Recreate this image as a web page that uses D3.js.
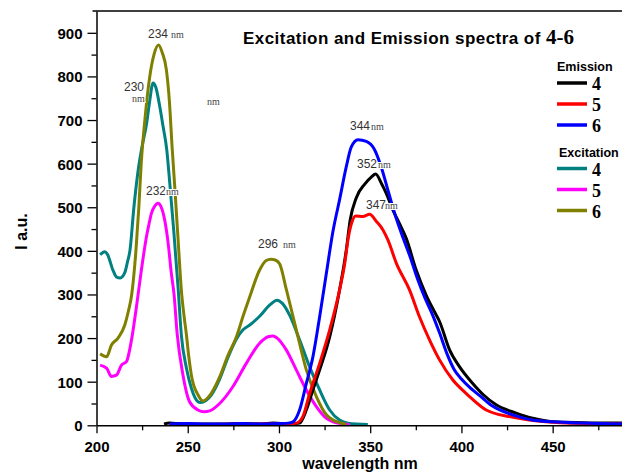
<!DOCTYPE html>
<html>
<head>
<meta charset="utf-8">
<script src="https://cdn.jsdelivr.net/npm/d3@7"></script>
<style>
  body { margin: 0; background: #fff; }
  svg { display: block; font-family: "Liberation Sans", Arial, sans-serif; }
</style>
</head>
<body>
<svg id="chart" width="622" height="473"></svg>
<script>
// Spectra: [wavelength nm, intensity a.u.]
const excitation4 = [[202,391],[204.5,398],[206,392],[209,356],[211,340],[213,338],[215.5,350],[217,375],[218.3,400],[220.5,500],[223,590],[225,640],[227.4,690],[229.2,745],[231,785],[232.5,775],[234.5,735],[236.5,685],[238.5,632],[240,563],[242.3,448],[244.7,316],[246.5,207],[249.3,131],[252,85],[255.6,54],[257,52],[260,57],[263,70],[267.5,106],[272,155],[276.7,198],[280.3,219],[284,230],[289.4,250],[295,276],[298.9,287],[302,279],[305.9,252],[311.3,196],[316.8,134],[322.3,81],[327.8,35],[333.2,12],[337.8,5],[348.7,2]];
const excitation5 = [[202,138],[205.5,131],[208.2,112],[210.9,115],[213.7,138],[216.4,146],[219.2,196],[221.9,272],[224.6,356],[227.4,433],[228.8,462],[230.1,486],[232,503],[233.7,509],[235.5,500],[237.4,470],[239.2,420],[241,349],[242.5,300],[244.2,210],[247.4,115],[251,54],[255.6,35],[259,31],[262,33],[267.5,50],[274.8,89],[282.1,142],[289.4,188],[294,203],[296.7,205],[299,200],[304,173],[309.5,127],[315,81],[320.5,43],[326,16],[331.4,6],[338.7,2]];
const excitation6 = [[202,164],[205.5,157],[208.2,184],[211.8,200],[215.5,230],[217.5,262],[219.3,300],[221.6,400],[223.2,500],[224.5,600],[226.5,700],[229.2,800],[231.5,850],[234,872],[236,855],[238.3,815],[240,740],[241.4,640],[243,540],[244.8,420],[246.5,310],[248,250],[249.3,207],[250.5,160],[252,115],[255.6,70],[258.4,56],[262,68],[267.5,111],[272,160],[276.7,203],[280.3,250],[284,295],[289.4,356],[293,378],[295.5,381],[298,379],[300.4,370],[304,312],[309.5,219],[315,127],[320.5,66],[326,24],[333.2,6],[337,2]];
const emission4 = [[237,3],[240,5],[245,4],[250,3],[260,3],[270,3],[280,4],[290,3],[297,5],[305,3],[311.3,5],[315,35],[318.6,81],[322.3,127],[327.8,203],[333.2,310],[336.9,402],[339,470],[342.4,522],[347,553],[350.6,569],[353,576],[356.1,555],[358.8,532],[362.4,494],[366,463],[369.8,428],[375.2,356],[380.7,298],[385,262],[388,238],[393.5,173],[399,134],[406.2,96],[412,70],[419,47],[430,28],[439.1,16],[450,8],[466.5,6],[488,5]];
const emission5 = [[240,2],[260,2],[280,3],[300,3],[305,3],[309.5,5],[313.1,20],[316.8,73],[322.3,142],[327.8,219],[333.2,310],[336,370],[338,430],[340,466],[342,480],[346,479],[349.7,484],[353.3,468],[357,448],[359.7,425],[364.3,372],[371.6,310],[377,249],[382.5,196],[388,150],[395.3,104],[400.8,80],[404.4,66],[413.6,35],[426.3,20],[439.1,11],[454,6],[488,3]];
const emission6 = [[240,3],[250,4],[260,3],[270,3],[280,4],[290,3],[300,4],[305,5],[307.7,8],[311.3,35],[315,96],[318.6,157],[322.3,249],[326,349],[329.6,445],[333.2,517],[336.9,593],[339.6,638],[343.3,655],[347.9,651],[352.4,632],[356,593],[360,535],[364,478],[368,430],[372,385],[376,335],[380,292],[384,255],[388,212],[392,165],[396,128],[400,106],[405,85],[410,68],[417,44],[428,24],[439,12],[450,8],[466.5,5],[488,3]];

const xTicks = [200, 250, 300, 350, 400, 450];
const xMinorTicks = [225, 275, 325, 375, 425, 475];
const yTicks = [0, 100, 200, 300, 400, 500, 600, 700, 800, 900];
const yMinorTicks = [50, 150, 250, 350, 450, 550, 650, 750, 850];

const compounds = ["4", "5", "6"];
const emissionColors = ["#000000", "#ff0000", "#0000ff"];
const excitationColors = ["#008080", "#ff00ff", "#808000"];

// peak labels: number text, start x, baseline, where the small "nm" goes
const peakLabels = [
    { num: "234", x: 148, y: 38, nmDx: 23, nmDy: 0 },
    { num: "230", x: 124, y: 91, nmDx: 8, nmDy: 11 },
    { num: "", x: 207, y: 105, nmDx: 0, nmDy: 0 },
    { num: "232", x: 146, y: 195, nmDx: 20, nmDy: 0 },
    { num: "296", x: 258, y: 248, nmDx: 25, nmDy: 0 },
    { num: "344", x: 350, y: 130, nmDx: 21, nmDy: 0 },
    { num: "352", x: 357, y: 168, nmDx: 21, nmDy: 0 },
    { num: "347", x: 366, y: 209, nmDx: 19, nmDy: 0 }
];

const svg = d3.select("#chart");
const plotLeft = 96.5, plotRight = 622, plotTop = 11, plotBottom = 425.3;

const x = d3.scaleLinear().domain([200, 488]).range([plotLeft, plotRight]);
const y = d3.scaleLinear().domain([0, 950]).range([plotBottom, plotTop]);

svg.append("clipPath").attr("id", "plotClip")
    .append("rect").attr("x", plotLeft).attr("y", plotTop)
    .attr("width", plotRight - plotLeft).attr("height", plotBottom - plotTop);

const line = d3.line()
    .x(d => x(d[0]))
    .y(d => y(d[1]))
    .curve(d3.curveMonotoneX);

const plot = svg.append("g").attr("clip-path", "url(#plotClip)");

// excitation first, emission drawn over it
const seriesOrder = [
    { data: excitation4, color: excitationColors[0] },
    { data: excitation5, color: excitationColors[1] },
    { data: excitation6, color: excitationColors[2] },
    { data: emission4, color: emissionColors[0] },
    { data: emission5, color: emissionColors[1] },
    { data: emission6, color: emissionColors[2] }
];
seriesOrder.forEach(s => {
    plot.append("path")
        .datum(s.data)
        .attr("d", line)
        .attr("fill", "none")
        .attr("stroke", s.color)
        .attr("stroke-width", 3)
        .attr("stroke-linejoin", "round");
});

// frame top line
svg.append("line")
    .attr("x1", 92.5).attr("x2", plotRight).attr("y1", plotTop).attr("y2", plotTop)
    .attr("stroke", "#000").attr("stroke-width", 1.5);

// x axis
const xAxis = svg.append("g")
    .attr("transform", `translate(0,${plotBottom})`)
    .call(d3.axisBottom(x).tickValues(xTicks).tickSize(8).tickSizeOuter(0));
xAxis.selectAll("text")
    .attr("y", 27).attr("dy", null)
    .style("font-size", "15px").style("font-weight", "bold")
    .style("font-family", '"Liberation Sans", Arial, sans-serif')
    .attr("fill", "#000");
svg.append("g")
    .attr("transform", `translate(0,${plotBottom})`)
    .call(d3.axisBottom(x).tickValues(xMinorTicks).tickSize(5).tickSizeOuter(0).tickFormat(""))
    .select(".domain").remove();

// y axis
const yAxis = svg.append("g")
    .attr("transform", `translate(${plotLeft},0)`)
    .call(d3.axisLeft(y).tickValues(yTicks).tickSize(9).tickPadding(5).tickSizeOuter(0));
yAxis.selectAll("text")
    .attr("dy", "0.36em")
    .style("font-size", "15px").style("font-weight", "bold")
    .style("font-family", '"Liberation Sans", Arial, sans-serif')
    .attr("fill", "#000");
svg.append("g")
    .attr("transform", `translate(${plotLeft},0)`)
    .call(d3.axisLeft(y).tickValues(yMinorTicks).tickSize(5).tickSizeOuter(0).tickFormat(""))
    .select(".domain").remove();

svg.selectAll(".domain").attr("stroke-width", 1.5);
svg.selectAll(".tick line").attr("stroke-width", 1.3);

// axis titles
svg.append("text")
    .attr("x", 360).attr("y", 469)
    .attr("text-anchor", "middle")
    .style("font-size", "16px").style("font-weight", "bold")
    .text("wavelength nm");

svg.append("text")
    .attr("transform", "translate(27,231.5) rotate(-90)")
    .attr("text-anchor", "middle")
    .style("font-size", "16px").style("font-weight", "bold")
    .text("I a.u.");

// title
const title = svg.append("text")
    .attr("x", 243).attr("y", 44)
    .style("font-size", "17px").style("font-weight", "bold")
    .style("letter-spacing", "0.45px");
title.append("tspan").text("Excitation and Emission spectra of ");
title.append("tspan")
    .style("font-family", '"Liberation Serif", "Times New Roman", serif')
    .style("font-size", "21px")
    .style("letter-spacing", "0px")
    .text("4-6");

// peak labels
peakLabels.forEach(p => {
    if (p.num) {
        svg.append("text")
            .attr("x", p.x).attr("y", p.y)
            .attr("fill", "#333")
            .style("font-size", "12px")
            .text(p.num);
    }
    svg.append("text")
        .attr("x", p.x + p.nmDx).attr("y", p.y + p.nmDy)
        .attr("fill", "#444")
        .attr("stroke", "#fff").attr("stroke-width", 2)
        .attr("paint-order", "stroke")
        .style("font-family", '"Liberation Serif", "Times New Roman", serif')
        .style("font-size", "10px")
        .text("nm");
});

// legend
function legendBlock(name, colors, titleX, titleY, lineY0) {
    svg.append("text")
        .attr("x", titleX).attr("y", titleY)
        .style("font-size", "12.5px").style("font-weight", "bold")
        .text(name);
    compounds.forEach((c, i) => {
        const ly = lineY0 + i * 21;
        svg.append("line")
            .attr("x1", 557).attr("x2", 587)
            .attr("y1", ly).attr("y2", ly)
            .attr("stroke", colors[i]).attr("stroke-width", 3.5);
        svg.append("text")
            .attr("x", 592).attr("y", ly + 7)
            .style("font-family", '"Liberation Serif", "Times New Roman", serif')
            .style("font-size", "18px").style("font-weight", "bold")
            .text(c);
    });
}
legendBlock("Emission", emissionColors, 557, 71, 83);
legendBlock("Excitation", excitationColors, 559, 157, 168.5);
</script>
</body>
</html>
